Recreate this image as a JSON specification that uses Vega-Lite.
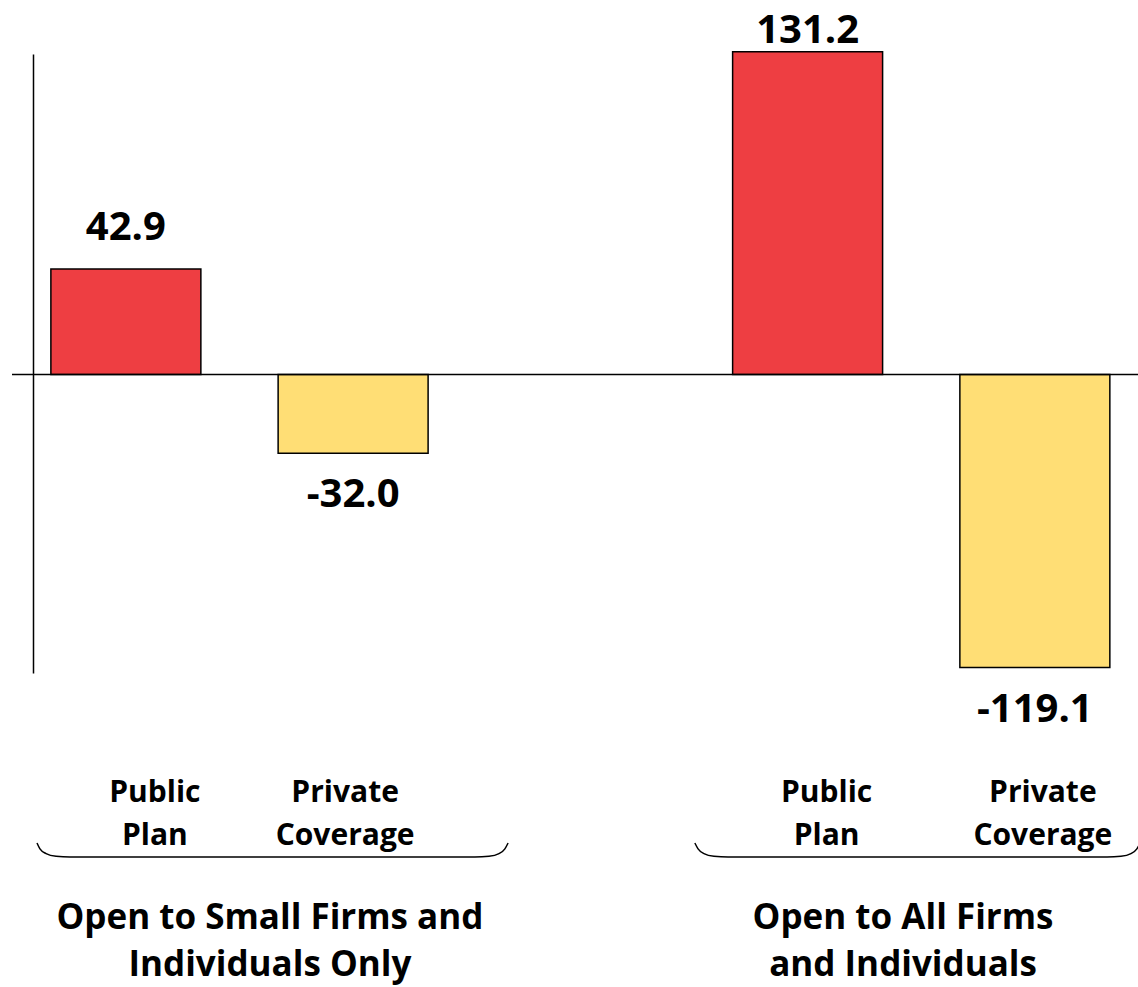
{
  "$schema": "https://vega.github.io/schema/vega-lite/v6.json",
  "width": 1126,
  "height": 619,
  "autosize": "none",
  "padding": {"left": 12, "top": 54, "right": 0, "bottom": 314},
  "background": "white",
  "config": {
    "view": {"stroke": null},
    "font": "Open Sans",
    "locale": {"number": {"decimal": ".", "thousands": ",", "grouping": [3], "currency": ["$", ""], "minus": "-"}}
  },
  "datasets": {
    "bars": [
      {"group": "Open to Small Firms and Individuals Only", "bar": "Small: Public Plan", "category": "Public Plan", "value": 42.9},
      {"group": "Open to Small Firms and Individuals Only", "bar": "Small: Private Coverage", "category": "Private Coverage", "value": -32.0},
      {"group": "Open to All Firms and Individuals", "bar": "All: Public Plan", "category": "Public Plan", "value": 131.2},
      {"group": "Open to All Firms and Individuals", "bar": "All: Private Coverage", "category": "Private Coverage", "value": -119.1}
    ],
    "braces": [
      {"brace": "small", "u": 0.110, "v": -190.4},
      {"brace": "small", "u": 0.123, "v": -192.8},
      {"brace": "small", "u": 0.150, "v": -194.7},
      {"brace": "small", "u": 0.194, "v": -195.8},
      {"brace": "small", "u": 0.255, "v": -196.1},
      {"brace": "small", "u": 2.037, "v": -196.1},
      {"brace": "small", "u": 2.099, "v": -195.8},
      {"brace": "small", "u": 2.143, "v": -194.7},
      {"brace": "small", "u": 2.169, "v": -192.8},
      {"brace": "small", "u": 2.183, "v": -190.4},
      {"brace": "all", "u": 3.005, "v": -190.4},
      {"brace": "all", "u": 3.019, "v": -192.8},
      {"brace": "all", "u": 3.045, "v": -194.7},
      {"brace": "all", "u": 3.089, "v": -195.8},
      {"brace": "all", "u": 3.151, "v": -196.1},
      {"brace": "all", "u": 4.819, "v": -196.1},
      {"brace": "all", "u": 4.880, "v": -195.8},
      {"brace": "all", "u": 4.924, "v": -194.7},
      {"brace": "all", "u": 4.950, "v": -192.8},
      {"brace": "all", "u": 4.964, "v": -190.4}
    ],
    "groups": [
      {"label": "Open to Small Firms and\nIndividuals Only", "u": 1.135, "v": -220.9},
      {"label": "Open to All Firms\nand Individuals", "u": 3.921, "v": -220.9}
    ]
  },
  "resolve": {"scale": {"x": "independent"}, "axis": {"x": "independent", "y": "independent"}},
  "layer": [
    {
      "data": {"name": "bars"},
      "encoding": {
        "x": {"field": "bar", "type": "nominal"},
        "y": {"field": "value", "type": "quantitative"},
        "text": {"field": "value", "type": "quantitative", "format": ".1f"}
      },
      "layer": [
        {
          "mark": {"type": "bar", "stroke": "black", "strokeWidth": 1.5},
          "encoding": {
            "x": {
              "field": "bar", "type": "nominal",
              "scale": {"domain": ["Small: Public Plan", "Small: Private Coverage", "gap", "All: Public Plan", "All: Private Coverage"], "paddingInner": 0.34, "paddingOuter": 0.1475, "align": 0.58},
              "axis": {
                "title": null, "domain": false, "ticks": false, "labelAngle": 0,
                "labelPadding": 104, "labelFontSize": 30, "labelFont": "Open Sans", "labelFontWeight": "bold",
                "labelColor": "black", "labelLineHeight": 43, "labelBaseline": "top",
                "labelExpr": "datum.value == 'gap' ? '' : (indexof(datum.value, 'Public') >= 0 ? ['Public', 'Plan'] : ['Private', 'Coverage'])",
                "labelOffset": {"condition": [{"test": "datum.value == 'Small: Public Plan'", "value": 29}, {"test": "datum.value == 'Small: Private Coverage'", "value": -8}, {"test": "datum.value == 'All: Public Plan'", "value": 19}], "value": 8}
              }
            },
            "y": {
              "field": "value", "type": "quantitative",
              "scale": {"domain": [-121.3, 130.3], "nice": false, "zero": false},
              "axis": {"title": null, "labels": false, "ticks": false, "grid": false, "domainColor": "black", "domainWidth": 1.5, "offset": -21}
            },
            "color": {"field": "category", "type": "nominal", "scale": {"domain": ["Public Plan", "Private Coverage"], "range": ["#EE3E42", "#FFDE75"]}, "legend": null}
          }
        },
        {
          "transform": [{"filter": "datum.value > 0 && datum.value < 100"}],
          "mark": {"type": "text", "fontSize": 40, "fontWeight": "bold", "font": "Open Sans", "baseline": "alphabetic", "color": "black", "dy": -29}
        },
        {
          "transform": [{"filter": "datum.value >= 100"}],
          "mark": {"type": "text", "fontSize": 40, "fontWeight": "bold", "font": "Open Sans", "baseline": "alphabetic", "color": "black", "dy": -9}
        },
        {
          "transform": [{"filter": "datum.value < 0"}],
          "mark": {"type": "text", "fontSize": 40, "fontWeight": "bold", "font": "Open Sans", "baseline": "alphabetic", "color": "black", "dy": 54}
        }
      ]
    },
    {
      "data": {"values": [{}]},
      "mark": {"type": "rule", "color": "black", "strokeWidth": 1.5},
      "encoding": {"y": {"datum": 0, "type": "quantitative", "scale": {"domain": [-121.3, 130.3], "nice": false, "zero": false}, "axis": null}}
    },
    {
      "layer": [
        {
          "data": {"name": "braces"},
          "mark": {"type": "line", "interpolate": "monotone", "color": "black", "strokeWidth": 1.5},
          "encoding": {
            "x": {"field": "u", "type": "quantitative", "scale": {"domain": [0, 4.955], "nice": false, "zero": false}, "axis": null},
            "y": {"field": "v", "type": "quantitative", "scale": {"domain": [-121.3, 130.3], "nice": false, "zero": false}, "axis": null},
            "detail": {"field": "brace", "type": "nominal"}
          }
        },
        {
          "data": {"name": "groups"},
          "mark": {"type": "text", "fontSize": 35, "fontWeight": "bold", "font": "Open Sans", "baseline": "middle", "align": "center", "lineBreak": "\n", "lineHeight": 47, "color": "black"},
          "encoding": {
            "x": {"field": "u", "type": "quantitative", "scale": {"domain": [0, 4.955], "nice": false, "zero": false}, "axis": null},
            "y": {"field": "v", "type": "quantitative", "scale": {"domain": [-121.3, 130.3], "nice": false, "zero": false}, "axis": null},
            "text": {"field": "label", "type": "nominal"}
          }
        }
      ]
    }
  ]
}
